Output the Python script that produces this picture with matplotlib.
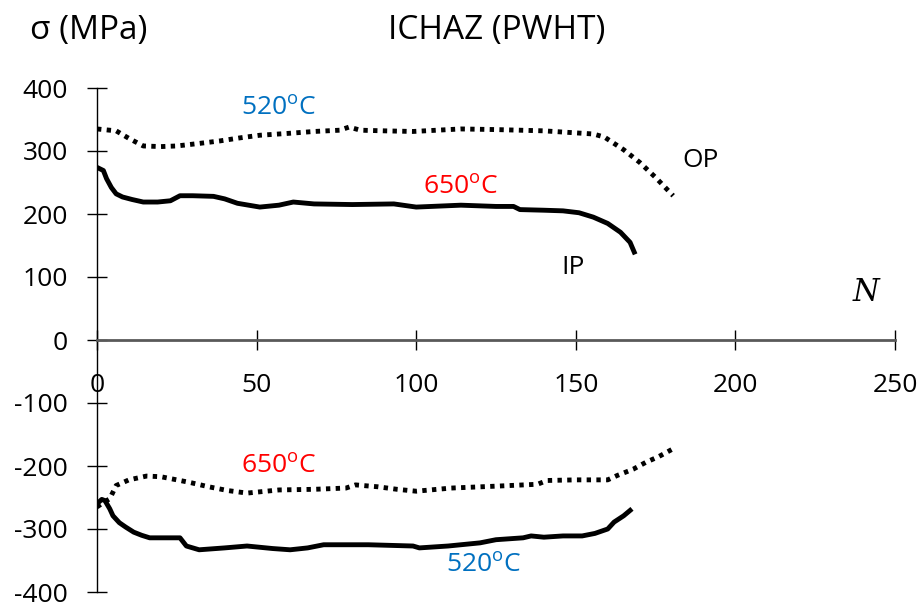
import matplotlib
matplotlib.use("Agg")
import matplotlib.pyplot as plt

plt.rcParams['font.family'] = ['Open Sans', 'DejaVu Sans']
plt.rcParams['mathtext.fontset'] = 'custom'
plt.rcParams['mathtext.rm'] = 'Open Sans'
plt.rcParams['axes.unicode_minus'] = False

# cycles and stress values, ICHAZ after PWHT
op_max_n = [0, 6, 10, 14.5, 20, 25, 32, 38.5, 45, 51, 60, 68, 76, 79, 82.5, 90, 99, 114, 125,
            140, 155.5, 159, 165, 170, 175, 180.5]
op_max_s = [335, 332, 320, 308, 307, 308, 312, 316, 321, 325, 328, 331, 333, 338, 333, 332, 331, 335, 334,
            332, 327, 322, 302, 282, 258, 229]

ip_max_n = [0, 2, 3, 4.5, 6, 8, 11, 14.5, 19, 23, 26, 30, 36.5, 40, 44, 51, 57, 61.5, 68, 80, 93, 100,
            114, 125, 130.5, 132.5, 140, 146, 151, 155.5, 160, 164, 167, 168.6]
ip_max_s = [274, 269, 256, 242, 232, 227, 223, 219, 219, 221, 229, 229, 228, 224, 217, 211, 214, 219, 216,
            215, 216, 211, 214, 212, 212, 207, 206, 205, 202, 195, 185, 171, 155, 136]

op_min_n = [0, 2, 4, 6, 10, 15.5, 20, 24, 29, 35, 41, 47, 57, 68, 78, 81, 88, 94, 100, 111, 125,
            138, 141, 150, 160, 163, 168, 172, 176, 180]
op_min_s = [-265, -258, -252, -231, -222, -216, -217, -221, -226, -233, -239, -243, -238, -237, -235, -230,
            -233, -237, -240, -235, -232, -229, -223, -222, -222, -215, -205, -194, -185, -174]

ip_min_n = [0, 1.5, 2.5, 4, 5, 7, 9, 11.5, 14, 16.5, 21, 26, 28, 32, 40, 47, 55, 60.5, 66, 71, 85, 99, 101,
            110, 120, 125, 133.5, 136, 140, 146, 152, 156, 160, 162, 165, 167.6]
ip_min_s = [-260, -253, -255, -268, -279, -290, -297, -305, -310, -314, -314, -314, -327, -333, -330, -327,
            -331, -333, -330, -325, -325, -327, -330, -327, -322, -317, -314, -311, -313, -311, -311, -307,
            -300, -289, -279, -268]

xticks = [0, 50, 100, 150, 200, 250]
yticks = [-400, -300, -200, -100, 0, 100, 200, 300, 400]

blue = '#0070C0'
red = '#FF0000'

fig = plt.figure(figsize=(9.21, 6.10), dpi=100)
ax = fig.add_axes([97 / 921, 1 - 592 / 610, 798 / 921, 504 / 610])

dotted = (0, (0.9, 1.1))
ax.plot(op_max_n, op_max_s, color='black', lw=3.5, linestyle=dotted, dash_capstyle='butt')
ax.plot(ip_max_n, ip_max_s, color='black', lw=3.5, solid_capstyle='butt')
ax.plot(op_min_n, op_min_s, color='black', lw=3.5, linestyle=dotted, dash_capstyle='butt')
ax.plot(ip_min_n, ip_min_s, color='black', lw=3.5, solid_capstyle='butt')

ax.set_xlim(0, 250)
ax.set_ylim(-400, 400)
ax.set_xticks(xticks)
ax.set_yticks(yticks)
ax.tick_params(axis='both', direction='inout', length=14, width=1, labelsize=19, colors='black')
ax.tick_params(axis='x', pad=17)
ax.tick_params(axis='y', pad=14)

for side in ['top', 'right']:
    ax.spines[side].set_visible(False)
ax.spines['left'].set_position(('data', 0))
ax.spines['bottom'].set_position(('data', 0))
ax.spines['left'].set_linewidth(1)
ax.spines['bottom'].set_linewidth(2)
ax.spines['bottom'].set_color('#595959')

fs = 19
fig.text(30 / 921, 1 - 30 / 610, 'σ (MPa)', fontsize=24, va='center', ha='left')
fig.text(497 / 921, 1 - 30 / 610, 'ICHAZ (PWHT)', fontsize=24, va='center', ha='center')

ax.text(57, 367, r'$\mathrm{520^{o}C}$', color=blue, fontsize=fs, ha='center', va='center')
ax.text(114, 242, r'$\mathrm{650^{o}C}$', color=red, fontsize=fs, ha='center', va='center')
ax.text(189, 285, 'OP', fontsize=fs, ha='center', va='center')
ax.text(149, 115, 'IP', fontsize=fs, ha='center', va='center')
ax.text(241, 75, 'N', fontsize=22, ha='center', va='center', family='DejaVu Serif', style='italic')
ax.text(57, -201, r'$\mathrm{650^{o}C}$', color=red, fontsize=fs, ha='center', va='center')
ax.text(121, -358, r'$\mathrm{520^{o}C}$', color=blue, fontsize=fs, ha='center', va='center')

fig.savefig('out.png', dpi=100)
